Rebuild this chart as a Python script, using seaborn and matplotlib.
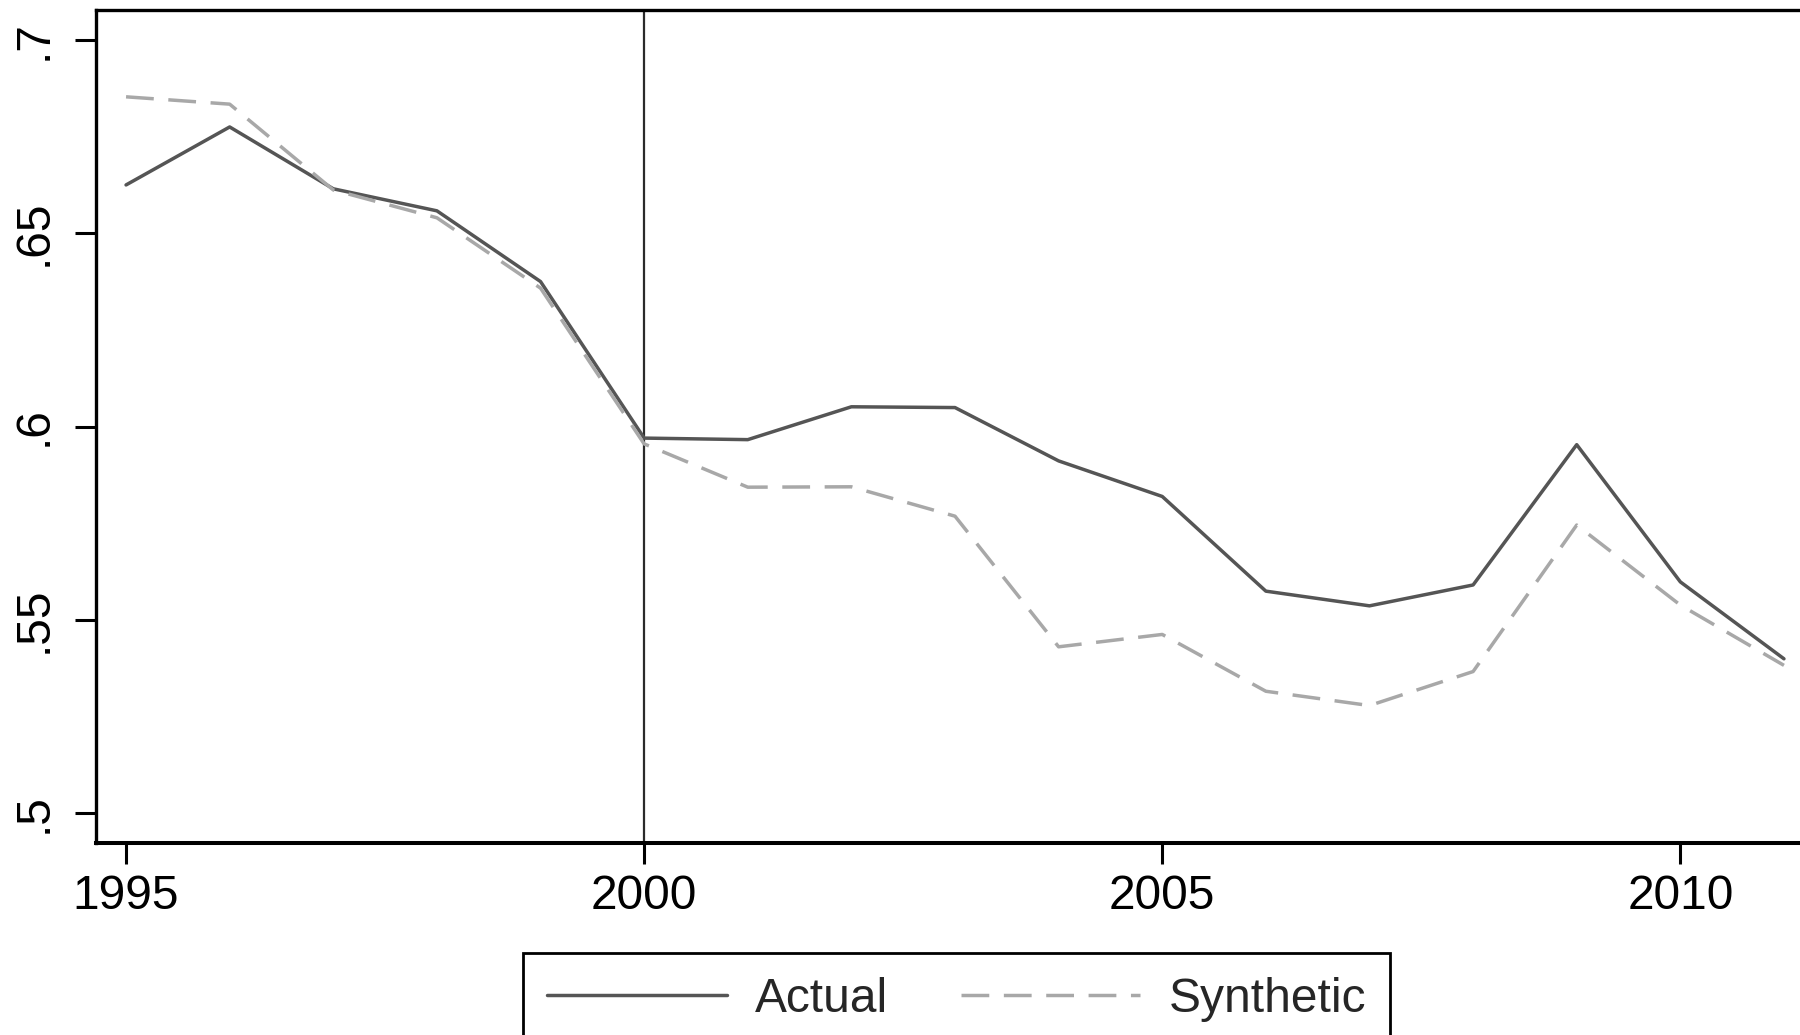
import numpy as np
import pandas as pd
import matplotlib
matplotlib.use("Agg")
import matplotlib.pyplot as plt
import seaborn as sns

# ---- data ----
years = list(range(1995, 2012))
actual = [0.6625, 0.6775, 0.6615, 0.6558, 0.6375, 0.5970, 0.5966, 0.6051, 0.6049,
          0.5911, 0.5819, 0.5574, 0.5536, 0.5590, 0.5953, 0.5598, 0.5399]
synthetic = [0.6853, 0.6834, 0.6612, 0.6540, 0.6358, 0.5955, 0.5843, 0.5844, 0.5768,
             0.5430, 0.5462, 0.5315, 0.5278, 0.5366, 0.5745, 0.5538, 0.5382]
series_names = ["Actual", "Synthetic"]
x_ticks = [1995, 2000, 2005, 2010]
y_ticks = [0.5, 0.55, 0.6, 0.65, 0.7]
y_tick_labels = [".5", ".55", ".6", ".65", ".7"]
treatment_year = 2000

df = pd.DataFrame({
    "year": years * 2,
    "value": actual + synthetic,
    "series": [series_names[0]] * len(years) + [series_names[1]] * len(years),
})

sns.set_style("white")
plt.rcParams["font.family"] = ["Liberation Sans", "DejaVu Sans"]

W, H, DPI = 1800, 1035, 100
fig = plt.figure(figsize=(W / DPI, H / DPI), dpi=DPI)
# axes in pixel coordinates: left 96, right 1814 (beyond figure), top 10, bottom 843
left_px, right_px, top_px, bottom_px = 96, 1814, 10, 843
ax = fig.add_axes([left_px / W, (H - bottom_px) / H,
                   (right_px - left_px) / W, (bottom_px - top_px) / H])

lw = 2.5
dash = (8, 4.2)
sns.lineplot(data=df, x="year", y="value", hue="series", style="series",
             palette={"Actual": "#555555", "Synthetic": "#a8a8a8"},
             dashes={"Actual": "", "Synthetic": dash},
             linewidth=lw, ax=ax, legend=False, estimator=None, sort=False)

ax.axvline(treatment_year, color="#2b2b2b", linewidth=1.6, zorder=0)

ax.set_xlim(1994.710, 2011.29)
ax.set_ylim(0.49224, 0.70776)
ax.set_xticks(x_ticks)
ax.set_xticklabels([str(t) for t in x_ticks])
ax.set_yticks(y_ticks)
ax.set_yticklabels(y_tick_labels, rotation=90, va="center")
ax.set_xlabel("")
ax.set_ylabel("")

for s in ax.spines.values():
    s.set_color("black")
    s.set_linewidth(2.4)
ax.spines["bottom"].set_linewidth(2.9)

fs = 34.5
ax.tick_params(axis="both", which="major", direction="out", length=15, width=2.2,
               color="black", labelsize=fs, labelcolor="black")
ax.tick_params(axis="x", pad=7)
ax.tick_params(axis="y", pad=13)
ax.tick_params(left=True, bottom=True)

# legend
from matplotlib.lines import Line2D
handles = [
    Line2D([], [], color="#555555", linewidth=lw),
    Line2D([], [], color="#a8a8a8", linewidth=lw, dashes=dash),
]
leg = fig.legend(handles, series_names, loc="upper left",
                 bbox_to_anchor=(523 / W, 1 - 953 / H), bbox_transform=fig.transFigure,
                 ncol=2, fontsize=fs, frameon=True, fancybox=False, shadow=False,
                 handlelength=3.75, handletextpad=0.6, columnspacing=1.5,
                 borderpad=0.5, borderaxespad=0.0)
leg.get_frame().set_edgecolor("black")
leg.get_frame().set_linewidth(2.0)
leg.get_frame().set_facecolor("white")
leg.get_frame().set_alpha(1)

fig.savefig("out.png", dpi=DPI, facecolor="white")
